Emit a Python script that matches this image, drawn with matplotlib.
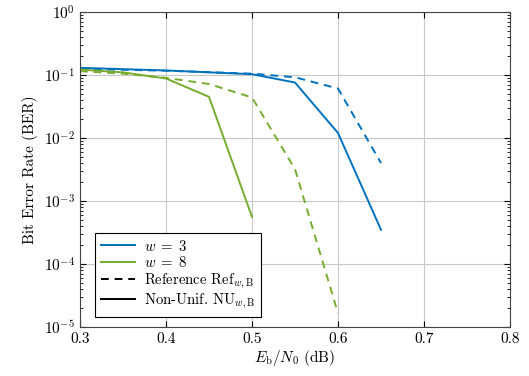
import matplotlib
matplotlib.use("Agg")
import matplotlib.pyplot as plt
from matplotlib.lines import Line2D
from matplotlib.ticker import LogLocator, NullFormatter

plt.rcParams['font.family'] = 'cmr10'
plt.rcParams['mathtext.fontset'] = 'cm'
plt.rcParams['axes.formatter.use_mathtext'] = True

x_w3_nu = [0.3, 0.4, 0.5, 0.55, 0.6, 0.65]
y_w3_nu = [0.13, 0.118, 0.103, 0.076, 0.012, 3.5e-4]
x_w3_ref = [0.3, 0.4, 0.5, 0.55, 0.6, 0.65]
y_w3_ref = [0.125, 0.117, 0.105, 0.092, 0.061, 0.004]
x_w8_nu = [0.3, 0.35, 0.4, 0.45, 0.5]
y_w8_nu = [0.122, 0.11, 0.088, 0.045, 5.6e-4]
x_w8_ref = [0.3, 0.35, 0.4, 0.45, 0.5, 0.55, 0.6]
y_w8_ref = [0.115, 0.105, 0.09, 0.072, 0.044, 0.0032, 1.65e-5]

blue = '#0072bd'
green = '#77ac30'

fig = plt.figure(figsize=(5.29, 3.76), dpi=100)
ax = fig.add_axes([80/529, 1-327/376, 430/529, 315/376])
ax.plot(x_w3_nu, y_w3_nu, color=blue, lw=1.4)
ax.plot(x_w3_ref, y_w3_ref, color=blue, lw=1.4, ls=(0, (4, 3)))
ax.plot(x_w8_nu, y_w8_nu, color=green, lw=1.4)
ax.plot(x_w8_ref, y_w8_ref, color=green, lw=1.4, ls=(0, (4, 3)))

ax.set_yscale('log')
ax.set_xlim(0.3, 0.8)
ax.set_ylim(1e-5, 1)
ax.set_xticks([0.3, 0.4, 0.5, 0.6, 0.7, 0.8])
ax.set_xticklabels(['0.3', '0.4', '0.5', '0.6', '0.7', '0.8'])
ax.yaxis.set_major_locator(LogLocator(base=10, numticks=10))
ax.yaxis.set_minor_locator(LogLocator(base=10, subs=range(2, 10), numticks=10))
ax.yaxis.set_minor_formatter(NullFormatter())
ax.tick_params(which='both', direction='in', top=True, right=True, labelsize=11)
ax.tick_params(which='major', length=4)
ax.tick_params(which='minor', length=2)
ax.grid(True, which='major', color='#c8c8c8', lw=0.8)
ax.set_xlabel(r'$E_{\mathrm{b}}/N_0$ (dB)', fontsize=11, labelpad=2)
ax.set_ylabel('Bit Error Rate (BER)', fontsize=11)
for s in ax.spines.values():
    s.set_color('#444444')

handles = [
    Line2D([], [], color=blue, lw=1.4),
    Line2D([], [], color=green, lw=1.4),
    Line2D([], [], color='black', lw=1.4, ls=(0, (4, 3))),
    Line2D([], [], color='black', lw=1.4),
]
labels = [r'$w\;=\;3$', r'$w\;=\;8$', r'Reference Ref$_{w,\mathrm{B}}$', r'Non-Unif. NU$_{w,\mathrm{B}}$']
leg = ax.legend(handles, labels, loc='lower left', bbox_to_anchor=(15/430, 10/315),
                borderaxespad=0,
                fontsize=10.6, frameon=True, fancybox=False, edgecolor='black',
                framealpha=1, handlelength=2.3, borderpad=0.4, labelspacing=0.1,
                handletextpad=0.6)
leg.get_frame().set_linewidth(0.8)

fig.savefig('out.png', dpi=100)
